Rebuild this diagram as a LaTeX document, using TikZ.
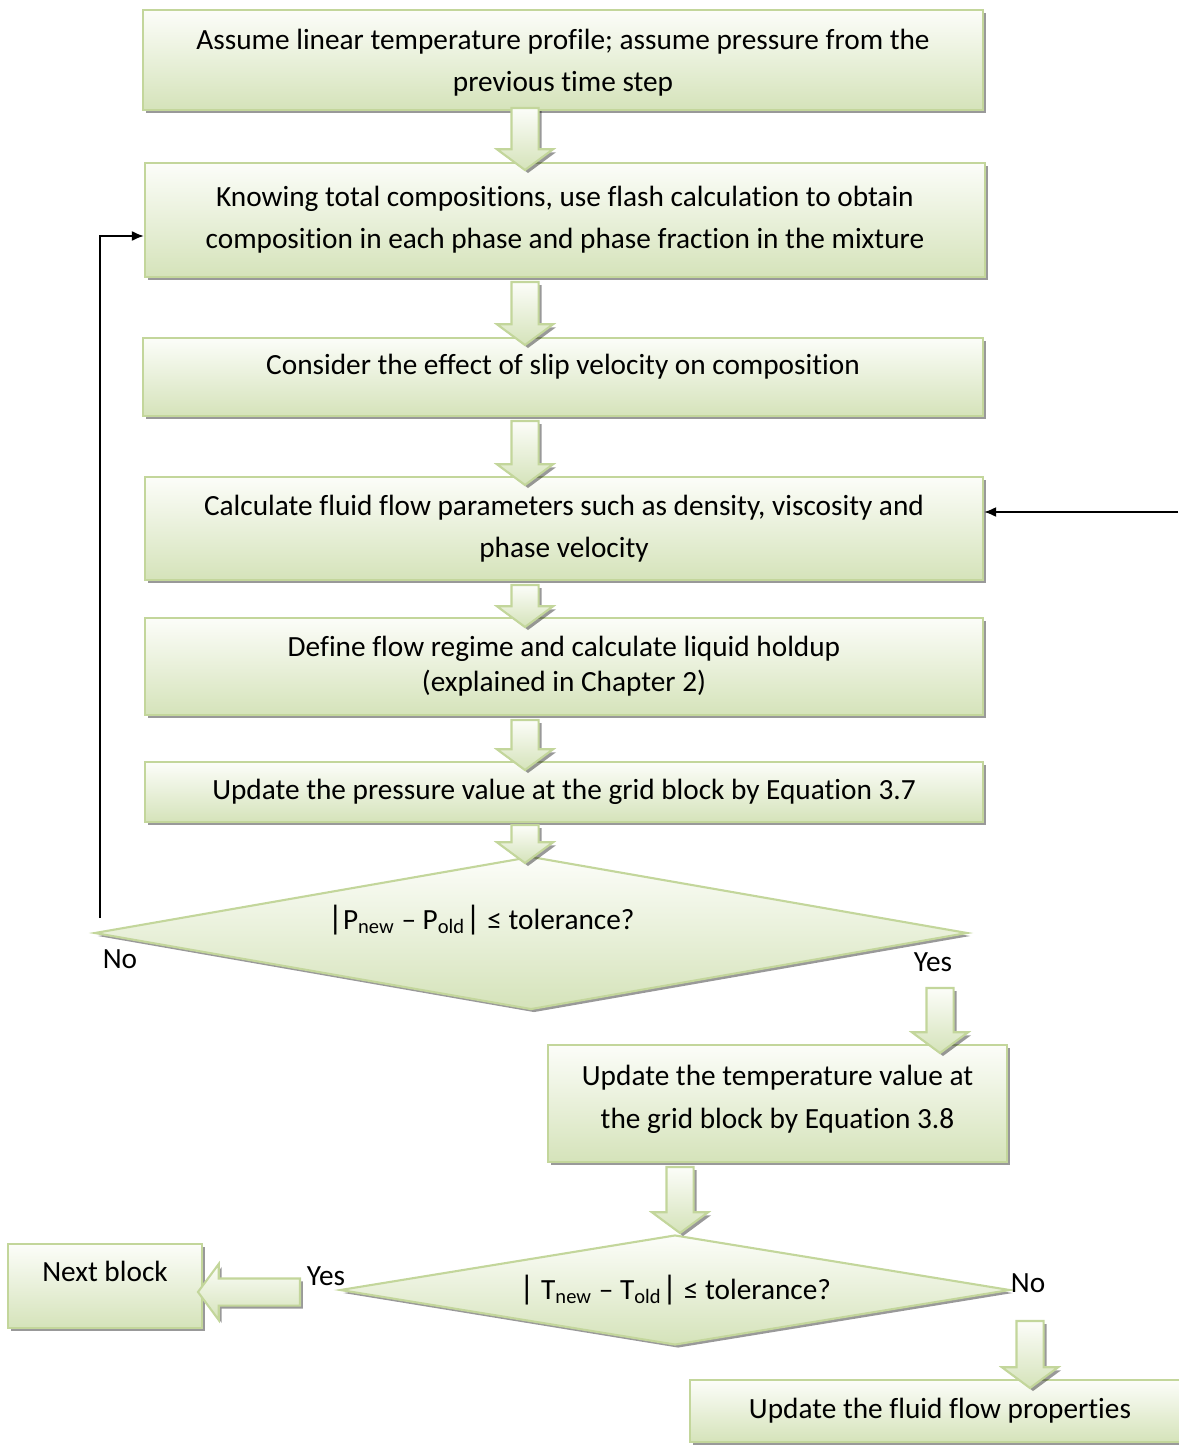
\documentclass[tikz,border=0pt]{standalone}
\usepackage{fontspec}
\setmainfont[Ligatures={TeX,NoCommon}]{Carlito}
\usetikzlibrary{arrows, arrows.meta}
\usetikzlibrary{shapes}
\usetikzlibrary{shadows, calc}

\definecolor{boxLine}{HTML}{C3D69B}
\definecolor{boxTop}{HTML}{FCFDF9}
\definecolor{boxBottom}{HTML}{D5E3BA}

\begin{document}
\begin{tikzpicture}[x = 0.015cm, y = -0.015cm, font=\fontsize{12.5}{18}\selectfont]
	\tikzstyle{fillStyle} = [draw = boxLine, line width = 0.9pt, top color = boxTop, bottom color = boxBottom, drop shadow = {shadow xshift = 0.045cm, shadow yshift = -0.045cm, fill = black, opacity = 0.4}]
	\tikzstyle{stepStyle} = [fillStyle, shape = rectangle, inner sep = 0pt, align = center]
	\tikzstyle{askStyle} = [fillStyle, shape = diamond, inner sep = 0pt]
	\tikzstyle{downStyle} = [fillStyle, shape = single arrow, shape border rotate = 270, inner sep = 0.1875cm, single arrow head extend = 0.2175cm, single arrow tip angle = 107, minimum width = 0.81cm]
	\tikzstyle{leftStyle} = [downStyle, shape border rotate = 180]
	\tikzstyle{lineStyle} = [draw, line width = 0.8pt, -{Latex[length = 0.18cm, width = 0.15cm]}]
	\useasboundingbox (0,0) rectangle (1178,1445);
	\node[stepStyle, minimum width = 12.6cm, minimum height = 1.5cm, text depth = 0cm] (s1) at (563,60) {Assume linear temperature profile; assume pressure from the\\previous time step};
	\node[stepStyle, minimum width = 12.6cm, minimum height = 1.71cm] (s2) at (565,220) {Knowing total compositions, use flash calculation to obtain\\composition in each phase and phase fraction in the mixture};
	\node[stepStyle, minimum width = 12.6cm, minimum height = 1.17cm, text depth = 0.38cm] (s3) at (563,377) {Consider the effect of slip velocity on composition};
	\node[stepStyle, minimum width = 12.57cm, minimum height = 1.545cm] (s4) at (564,528.5) {Calculate fluid flow parameters such as density, viscosity and\\phase velocity};
	\node[stepStyle, minimum width = 12.57cm, minimum height = 1.455cm] (s5) at (564,666.5) {Define flow regime and calculate liquid holdup\\[-3pt](explained in Chapter 2)};
	\node[stepStyle, minimum width = 12.57cm, minimum height = 0.9cm] (s6) at (564,792) {Update the pressure value at the grid block by Equation 3.7};
	\node[askStyle, minimum width = 13.095cm, minimum height = 2.295cm,
		label = {[xshift = -0.75cm, yshift = 0.2cm]center:{\Large\textbar}P\textsubscript{new} – P\textsubscript{old}{\Large\textbar} ≤ tolerance?}] (d1) at (531,933) {};
	\node[stepStyle, minimum width = 6.885cm, minimum height = 1.755cm, text depth = 0.2cm] (s7) at (777.5,1103.5) {Update the temperature value at\\the grid block by Equation 3.8};
	\node[askStyle, minimum width = 10.05cm, minimum height = 1.65cm,
		label = {center:{\Large\textbar} T\textsubscript{new} – T\textsubscript{old}{\Large\textbar} ≤ tolerance?}] (d2) at (675,1290) {};
	\node[stepStyle, minimum width = 2.91cm, minimum height = 1.26cm, text depth = 0.43cm] (s8) at (105,1286) {Next block};
	\node[stepStyle, minimum width = 7.5cm, minimum height = 0.93cm] (s9) at (940,1411) {Update the fluid flow properties};
	% block arrows
	\node[downStyle, minimum height = 0.93cm] (a1) at (525,134) {};
	\node[downStyle, minimum height = 0.945cm] (a2) at (525,308.5) {};
	\node[downStyle, minimum height = 0.96cm] (a3) at (525,448) {};
	\node[downStyle, minimum height = 0.63cm] (a4) at (525,601) {};
	\node[downStyle, minimum height = 0.75cm] (a5) at (525,740) {};
	\node[downStyle, minimum height = 0.57cm] (a6) at (525,839) {};
	\node[downStyle, minimum height = 0.975cm] (a7) at (940,1015.5) {};
	\node[downStyle, minimum height = 0.99cm] (a8) at (680,1195) {};
	\node[downStyle, minimum height = 1.005cm] (a9) at (1030,1349.5) {};
	\node[leftStyle, minimum height = 1.53cm] (a10) at (254,1292) {};
	% answers
	\node (no1) at (120,959) {No};
	\node (yes1) at (933,962) {Yes};
	\node (yes2) at (326,1276) {Yes};
	\node (no2) at (1028,1283) {No};
	% loops back
	\coordinate (noStart) at (100,918);
	\coordinate (fromRight) at (1178,512);
	\draw[lineStyle] (noStart) |- ($(s2.west)+(0,16)$);
	\draw[lineStyle] (fromRight) -- (fromRight -| s4.east);
\end{tikzpicture}
\end{document}
